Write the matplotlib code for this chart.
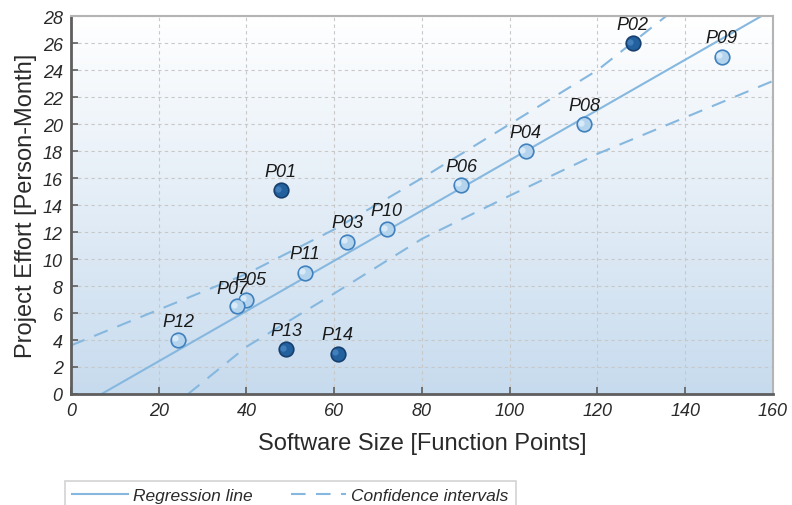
import numpy as np
import matplotlib

matplotlib.use("Agg")
import matplotlib.pyplot as plt
from matplotlib.lines import Line2D

plt.rcParams["font.family"] = ["Liberation Sans", "DejaVu Sans"]

# --- Data ---
projects = ["P01", "P02", "P03", "P04", "P05", "P06", "P07",
            "P08", "P09", "P10", "P11", "P12", "P13", "P14"]
size_fp = [47.8, 128.0, 63.0, 103.6, 40.0, 89.0, 37.8,
           117.0, 148.3, 72.0, 53.3, 24.4, 49.0, 60.8]
effort_pm = [15.1, 26.0, 11.3, 18.0, 7.0, 15.5, 6.5,
             20.0, 25.0, 12.2, 9.0, 4.0, 3.3, 3.0]
outlier = ["P01", "P02", "P13", "P14"]

reg_x = [0, 160]
reg_y = [-1.3, 28.5]

upper_x = [0, 20, 40, 60, 80, 100, 120, 136]
upper_y = [3.6, 6.25, 8.9, 12.2, 16.0, 20.0, 24.0, 28.1]
lower_x = [26.7, 40, 60, 80, 100, 120, 140, 160]
lower_y = [0.0, 3.5, 7.45, 11.5, 14.7, 17.8, 20.5, 23.2]

x_ticks = list(range(0, 161, 20))
y_ticks = list(range(0, 29, 2))

# label nudges in points (dx, dy)
label_shift = {"P07": (-3, 12.5), "P05": (3, 14.5)}

line_col = "#86b8df"

# --- Figure ---
fig = plt.figure(figsize=(7.92, 5.06), dpi=100)
ax = fig.add_axes([0.0896, 0.2194, 0.8864, 0.7466])

# gradient background
grad = np.linspace(0, 1, 256).reshape(-1, 1)
cmap = matplotlib.colors.LinearSegmentedColormap.from_list(
    "bg", ["#c7dbee", "#ffffff"])
ax.imshow(grad, aspect="auto", cmap=cmap, origin="lower",
          extent=[0, 160, 0, 28], zorder=0)

ax.set_xlim(0, 160)
ax.set_ylim(0, 28)
ax.set_xticks(x_ticks)
ax.set_yticks(y_ticks)
ax.grid(True, color="#c8c8c8", linestyle=(0, (3, 3)), linewidth=0.8, zorder=1)

# lines
ax.plot(reg_x, reg_y, color=line_col, lw=1.5, zorder=2)
ax.plot(upper_x, upper_y, color=line_col, lw=1.5, dashes=(7, 5), zorder=2)
ax.plot(lower_x, lower_y, color=line_col, lw=1.5, dashes=(7, 5), zorder=2)

# points
for name, x, y in zip(projects, size_fp, effort_pm):
    if name in outlier:
        fc, ec, hc = "#23609e", "#173f6e", "#4b86c0"
    else:
        fc, ec, hc = "#b4d4ee", "#3f80bd", "#e2effa"
    ax.plot(x, y, "o", ms=10.5, mfc=fc, mec=ec, mew=1.2, zorder=4)
    ax.plot(x - 0.7, y + 0.12, "o", ms=4.5, mfc=hc, mec="none",
            alpha=0.8, zorder=5)
    dx, dy = label_shift.get(name, (0, 13.5))
    ax.annotate(name, (x, y), xytext=(dx, dy), textcoords="offset points",
                ha="center", va="center", fontsize=13, style="italic",
                color="#1a1a1a", zorder=6)

# spines and ticks
for s in ["left", "bottom"]:
    ax.spines[s].set_color("#5e5e5e")
    ax.spines[s].set_linewidth(2)
for s in ["top", "right"]:
    ax.spines[s].set_color("#b4b4b4")
    ax.spines[s].set_linewidth(1.5)
ax.tick_params(direction="in", length=5, width=1.2, color="#5e5e5e",
               labelsize=13, labelcolor="#2a2a2a", pad=6)
for lab in ax.get_xticklabels() + ax.get_yticklabels():
    lab.set_style("italic")

ax.set_xlabel("Software Size [Function Points]", fontsize=17,
              color="#2a2a2a", labelpad=9)
ax.set_ylabel("Project Effort [Person-Month]", fontsize=17,
              color="#2a2a2a", labelpad=4)

# legend (cut off by figure bottom like the original)
handles = [Line2D([], [], color=line_col, lw=1.5),
           Line2D([], [], color=line_col, lw=1.5, dashes=(7, 5))]
leg = fig.legend(handles, ["Regression line", "Confidence intervals"],
                 loc="upper left", bbox_to_anchor=(65 / 792, 1 - 482 / 506),
                 ncol=2, frameon=True, fancybox=False,
                 handlelength=3.2, handletextpad=0.3, columnspacing=2.2,
                 borderpad=0.4, borderaxespad=0,
                 prop={"style": "italic", "size": 12.5})
leg.get_frame().set_edgecolor("#c8c8c8")
leg.get_frame().set_linewidth(1.2)
for t in leg.get_texts():
    t.set_color("#2a2a2a")

fig.savefig("out.png", dpi=100)
